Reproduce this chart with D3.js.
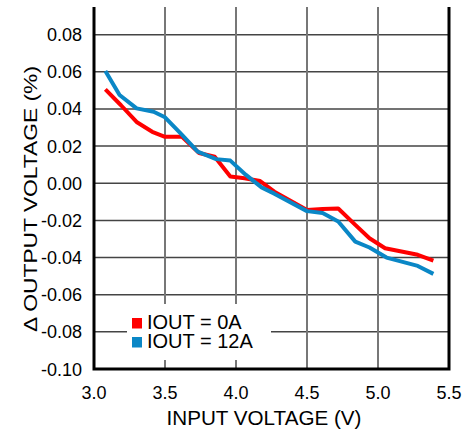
<!DOCTYPE html>
<html>
<head>
<meta charset="utf-8">
<script src="https://cdn.jsdelivr.net/npm/d3@7"></script>
<style>
  body { margin: 0; background: #fff; }
  text { font-family: Arial, "Liberation Sans", sans-serif; fill: #000; }
</style>
</head>
<body>
<script>
// data
var seriesNames = ['IOUT = 0A', 'IOUT = 12A']
var seriesColors = ['#ff0000', '#0a87c6']
var vin0A = [3.08, 3.19, 3.30, 3.41, 3.50, 3.62, 3.74, 3.85, 3.96, 4.06, 4.17, 4.27, 4.50, 4.61, 4.72, 4.84, 4.94, 5.05, 5.28, 5.39]
var dv0A = [0.0505, 0.042, 0.033, 0.0277, 0.025, 0.025, 0.0163, 0.0143, 0.0036, 0.0027, 0.0012, -0.0045, -0.0144, -0.0138, -0.0136, -0.0224, -0.0296, -0.035, -0.0385, -0.0416]
var vin12A = [3.08, 3.18, 3.30, 3.42, 3.50, 3.62, 3.73, 3.86, 3.96, 4.07, 4.18, 4.27, 4.50, 4.61, 4.72, 4.84, 4.94, 5.06, 5.28, 5.39]
var dv12A = [0.0605, 0.0475, 0.0403, 0.0385, 0.0355, 0.026, 0.017, 0.013, 0.0122, 0.0045, -0.0022, -0.0056, -0.015, -0.016, -0.0206, -0.0314, -0.0346, -0.040, -0.0445, -0.0488]
var xTicks = [3.0, 3.5, 4.0, 4.5, 5.0, 5.5]
var yTicks = [-0.10, -0.08, -0.06, -0.04, -0.02, 0.00, 0.02, 0.04, 0.06, 0.08]

var W = 469, H = 434
var pl = 94, pr = 449, pt = 7, pb = 369

var x = d3.scaleLinear().domain([3.0, 5.5]).range([pl, pr])
var y = d3.scaleLinear().domain([-0.10, 0.0949]).range([pb, pt])

var svg = d3.select('body').append('svg')
  .attr('width', W)
  .attr('height', H)

// grid
svg.append('g').selectAll('line')
  .data(yTicks.slice(1))
  .enter().append('line')
  .attr('x1', pl).attr('x2', pr)
  .attr('y1', d => y(d)).attr('y2', d => y(d))
  .attr('stroke', '#444').attr('stroke-width', 1.5)

svg.append('g').selectAll('line')
  .data(xTicks.slice(1, -1))
  .enter().append('line')
  .attr('x1', d => x(d)).attr('x2', d => x(d))
  .attr('y1', pt).attr('y2', pb)
  .attr('stroke', '#777').attr('stroke-width', 2)

// frame: left, bottom, right
svg.append('path')
  .attr('d', `M${pl},${pt}V${pb}H${pr}V${pt}`)
  .attr('fill', 'none').attr('stroke', '#000').attr('stroke-width', 3)

// tick labels (plain hyphen for minus, like the original)
var fmt = d3.format('.2f')
svg.append('g').selectAll('text')
  .data(yTicks)
  .enter().append('text')
  .attr('x', 82).attr('y', d => y(d) + 6.5)
  .attr('text-anchor', 'end')
  .style('font-size', '18px')
  .text(d => fmt(d).replace('\u2212', '-'))

svg.append('g').selectAll('text')
  .data(xTicks)
  .enter().append('text')
  .attr('x', d => x(d)).attr('y', 399)
  .attr('text-anchor', 'middle')
  .style('font-size', '18px')
  .text(d => d.toFixed(1))

// axis titles
svg.append('text')
  .attr('x', 264).attr('y', 425)
  .attr('text-anchor', 'middle')
  .style('font-size', '20px')
  .attr('textLength', 195)
  .attr('lengthAdjust', 'spacingAndGlyphs')
  .text('INPUT VOLTAGE (V)')

svg.append('text')
  .attr('transform', 'translate(37,199) rotate(-90)')
  .attr('text-anchor', 'middle')
  .style('font-size', '19px')
  .attr('textLength', 266)
  .attr('lengthAdjust', 'spacingAndGlyphs')
  .text('\u0394 OUTPUT VOLTAGE (%)')

// lines
var line = d3.line().x(d => x(d[0])).y(d => y(d[1]))
var series = [d3.zip(vin0A, dv0A), d3.zip(vin12A, dv12A)]

svg.append('g').selectAll('path')
  .data(series)
  .enter().append('path')
  .attr('d', line)
  .attr('fill', 'none')
  .attr('stroke', (d, i) => seriesColors[i])
  .attr('stroke-width', 4)
  .attr('stroke-linejoin', 'round')

// legend
var lg = svg.append('g')
lg.append('rect')
  .attr('x', 127).attr('y', 304).attr('width', 144).attr('height', 56)
  .attr('fill', '#fff')
var items = lg.selectAll('g.item')
  .data(seriesNames)
  .enter().append('g').attr('class', 'item')
  .attr('transform', (d, i) => `translate(0, ${i * 19})`)
items.append('rect')
  .attr('x', 132).attr('y', 318).attr('width', 10).attr('height', 10.5)
  .attr('fill', (d, i) => seriesColors[i])
items.append('text')
  .attr('x', 147).attr('y', 329)
  .style('font-size', '20px')
  .text(d => d)
</script>
</body>
</html>
